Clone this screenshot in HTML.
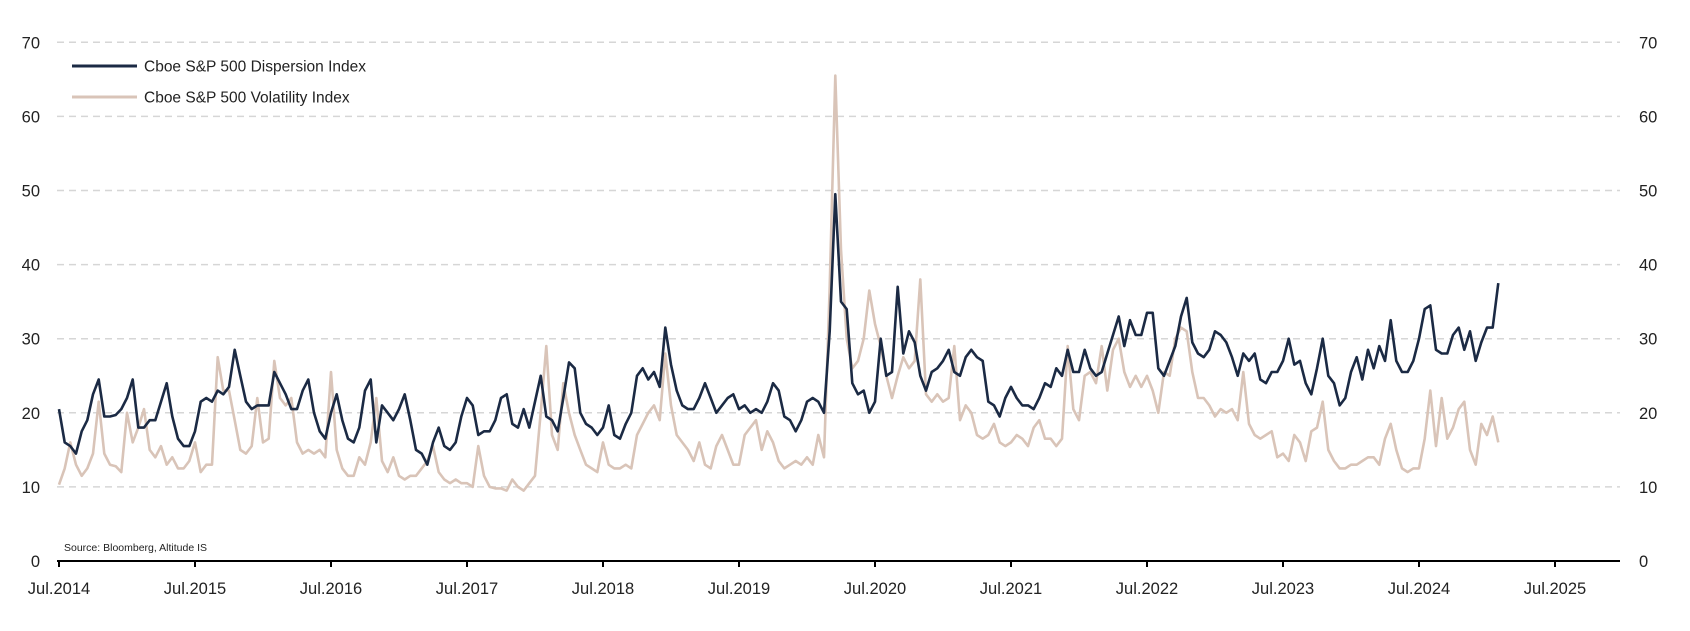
<!DOCTYPE html>
<html><head><meta charset="utf-8"><style>
html,body{margin:0;padding:0;background:#fff;}
svg{display:block;font-family:"Liberation Sans",sans-serif;}
</style></head><body>
<svg id="chart" width="1690" height="631" viewBox="0 0 1690 631" xmlns="http://www.w3.org/2000/svg">
<g id="grid"></g>
<g id="yl"></g>
<g id="yr"></g>
<g id="xa"></g>
<g id="series"></g>
<g>
<g><line x1="72" y1="66" x2="137" y2="66" stroke="#1b2a44" stroke-width="3"/><text x="144" y="71.5" font-size="15.5" fill="#222">Cboe S&amp;P 500 Dispersion Index</text></g>
<g><line x1="72" y1="97" x2="137" y2="97" stroke="#d9c4b8" stroke-width="3"/><text x="144" y="102.5" font-size="15.5" fill="#222">Cboe S&amp;P 500 Volatility Index</text></g>
</g>
<text x="64" y="551" font-size="10.5" fill="#222">Source: Bloomberg, Altitude IS</text>
</svg>
<script>
const yTicks=[0,10,20,30,40,50,60,70];
const xTickLabels=["Jul.2014","Jul.2015","Jul.2016","Jul.2017","Jul.2018","Jul.2019","Jul.2020","Jul.2021","Jul.2022","Jul.2023","Jul.2024","Jul.2025"];
const startYear=2014.5;
const pointsPerYear=24;
const dispersion=[
20.5,16,15.5,14.5,17.5,19,22.5,24.5,19.5,19.5,19.7,20.5,22,24.5,18,18,19,19,21.5,24,19.5,16.5,15.5,15.5,
17.5,21.5,22,21.5,23,22.5,23.5,28.5,25,21.5,20.5,21,21,21,25.5,24,22.5,20.5,20.5,23,24.5,20,17.5,16.5,
20,22.5,19,16.5,16,18,23,24.5,16,21,20,19,20.5,22.5,19,15,14.5,13,16,18,15.5,15,16,19.5,
22,21,17,17.5,17.5,19,22,22.5,18.5,18,20.5,18,21.5,25,19.5,19,17.5,22,26.8,26,20,18.5,18,17,
18,21,17,16.5,18.5,20,25,26,24.5,25.5,23.5,31.5,26.5,23,21,20.5,20.5,22,24,22,20,21,22,22.5,
20.5,21,20,20.5,20,21.5,24,23,19.5,19,17.5,19,21.5,22,21.5,20,31,49.5,35,34,24,22.5,23,20,
21.5,30,25,25.5,37,28,31,29.5,25,23,25.5,26,27,28.5,25.5,25,27.5,28.5,27.5,27,21.5,21,19.5,22,
23.5,22,21,21,20.5,22,24,23.5,26,25,28.5,25.5,25.5,28.5,26,25,25.5,28,30.5,33,29,32.5,30.5,30.5,
33.5,33.5,26,25,27,29,33,35.5,29.5,28,27.5,28.5,31,30.5,29.5,27.5,25,28,27,28,24.5,24,25.5,25.5,
27,30,26.5,27,24,22.5,26,30,25,24,21,22,25.5,27.5,24.5,28.5,26,29,27,32.5,27,25.5,25.5,27,
30,34,34.5,28.5,28,28,30.5,31.5,28.5,31,27,29.5,31.5,31.5,37.5];
const volatility=[
10.3,12.5,16,13,11.5,12.5,14.5,21.5,14.5,13,12.8,12,20,16,18,20.5,15,14,15.5,13,14,12.5,12.5,13.5,
16,12,13,13,27.5,23,23,19,15,14.5,15.5,22,16,16.5,27,22,21,22,16,14.5,15,14.5,15,14,
25.5,15,12.5,11.5,11.5,14,13,16,22,13.5,12,14,11.5,11,11.5,11.5,12.5,13.5,15.5,12,11,10.5,11,10.5,
10.5,10,15.5,11.5,10,9.8,9.8,9.5,11,10,9.5,10.5,11.5,20,29,17,15,24,20,17,15,13,12.5,12,
16,13,12.5,12.5,13,12.5,17,18.5,20,21,19,28,21,17,16,15,13.5,16,13,12.5,15.5,17,15,13,
13,17,18,19,15,17.5,16,13.5,12.5,13,13.5,13,14,13,17,14,37,65.5,42,30,26,27,30,36.5,
32,29,25,22,25,27.5,26,27,38,22.5,21.5,22.5,21.5,22,29,19,21,20,17,16.5,17,18.5,16,15.5,
16,17,16.5,15.5,18,19,16.5,16.5,15.5,16.5,29,20.5,19,25,25.5,24,29,23,28.5,30,25.5,23.5,25,23.5,
25,23,20,25.5,25,30,31.5,31,25.5,22,22,21,19.5,20.5,20,20.5,19,25.5,18.5,17,16.5,17,17.5,14,
14.5,13.5,17,16,13.5,17.5,18,21.5,15,13.5,12.5,12.5,13,13,13.5,14,14,13,16.5,18.5,15,12.5,12,12.5,
12.5,16.5,23,15.5,22,16.5,18,20.5,21.5,15,13,18.5,17,19.5,16];
const NS="http://www.w3.org/2000/svg";
const X0=59,PX_PER_YEAR=136,Y0=561,PX_PER_UNIT=7.41,XL=57,XR=1620;
function xs(i){return X0+(i/pointsPerYear)*PX_PER_YEAR;}
function xy(yr){return X0+(yr-startYear)*PX_PER_YEAR;}
function ys(v){return Y0-v*PX_PER_UNIT;}
function mk(tag,attrs,parent){const e=document.createElementNS(NS,tag);for(const k in attrs)e.setAttribute(k,attrs[k]);parent.appendChild(e);return e;}
const grid=document.getElementById('grid'),yl=document.getElementById('yl'),yr=document.getElementById('yr'),xa=document.getElementById('xa'),ser=document.getElementById('series');
yTicks.forEach(t=>{
  if(t>0){const g=mk('line',{x1:XL,x2:XR,y1:ys(t),y2:ys(t),stroke:'#d6d6d6','stroke-width':1.5,'stroke-dasharray':'7 5'},grid);
  
  }
  const a=mk('text',{x:40,y:ys(t)+6,'font-size':16.5,'text-anchor':'end',fill:'#222'},yl);a.textContent=t;
  
  
  const b=mk('text',{x:1639,y:ys(t)+6,'font-size':16.5,'text-anchor':'start',fill:'#222'},yr);b.textContent=t;
  
  
});
const ax=mk('line',{x1:XL,x2:XR,y1:Y0,y2:Y0,stroke:'#000','stroke-width':2},xa);


xTickLabels.forEach((lab,k)=>{
  const x=xy(startYear+k);
  const tk=mk('line',{x1:x,x2:x,y1:Y0,y2:Y0+6,stroke:'#000','stroke-width':2},xa);
  
  
  const t=mk('text',{x:x,y:594,'font-size':16.5,'text-anchor':'middle',fill:'#222'},xa);t.textContent=lab;
  
  
});
function line(data,color,name){
  const d=data.map((v,i)=>(i?'L':'M')+xs(i).toFixed(1)+' '+ys(v).toFixed(1)).join(' ');
  const p=mk('path',{d:d,fill:'none',stroke:color,'stroke-width':2.6,'stroke-linejoin':'round'},ser);
  
  
}
line(volatility,'#d9c4b8','volatility-index-line');
line(dispersion,'#1b2a44','dispersion-index-line');
</script>
</body></html>
